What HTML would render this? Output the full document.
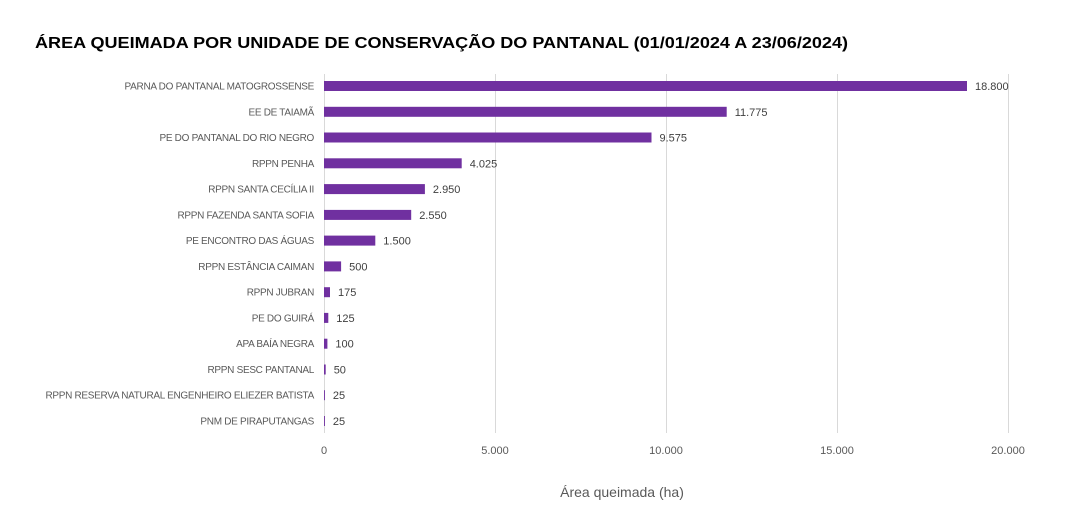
<!DOCTYPE html>
<html><head><meta charset="utf-8"><style>
html,body{margin:0;padding:0;background:#fff;}
svg{display:block;font-family:"Liberation Sans",sans-serif;}
</style></head><body>
<svg width="1080" height="522" viewBox="0 0 1080 522">
<text x="35" y="48" font-size="16" font-weight="bold" fill="#000" textLength="813" lengthAdjust="spacingAndGlyphs">ÁREA QUEIMADA POR UNIDADE DE CONSERVAÇÃO DO PANTANAL (01/01/2024 A 23/06/2024)</text>
<g stroke="#d9d9d9" stroke-width="1">
<line x1="324.5" y1="74" x2="324.5" y2="433"/>
<line x1="495.5" y1="74" x2="495.5" y2="433"/>
<line x1="666.5" y1="74" x2="666.5" y2="433"/>
<line x1="837.5" y1="74" x2="837.5" y2="433"/>
<line x1="1008.5" y1="74" x2="1008.5" y2="433"/>
</g>
<g font-size="11" fill="#595959" text-anchor="middle">
<text x="324" y="454">0</text>
<text x="495" y="454">5.000</text>
<text x="666" y="454">10.000</text>
<text x="837" y="454">15.000</text>
<text x="1008" y="454">20.000</text>
</g>
<text x="622" y="497" font-size="14" fill="#595959" text-anchor="middle">Área queimada (ha)</text>
<g font-size="10" fill="#595959" text-anchor="end" letter-spacing="-0.3">
<text x="314" y="89.5">PARNA DO PANTANAL MATOGROSSENSE</text>
<text x="314" y="115.3">EE DE TAIAMÃ</text>
<text x="314" y="141">PE DO PANTANAL DO RIO NEGRO</text>
<text x="314" y="166.8">RPPN PENHA</text>
<text x="314" y="192.6">RPPN SANTA CECÍLIA II</text>
<text x="314" y="218.4">RPPN FAZENDA SANTA SOFIA</text>
<text x="314" y="244.1">PE ENCONTRO DAS ÁGUAS</text>
<text x="314" y="269.9">RPPN ESTÂNCIA CAIMAN</text>
<text x="314" y="295.7">RPPN JUBRAN</text>
<text x="314" y="321.4">PE DO GUIRÁ</text>
<text x="314" y="347.2">APA BAÍA NEGRA</text>
<text x="314" y="373">RPPN SESC PANTANAL</text>
<text x="314" y="398.7">RPPN RESERVA NATURAL ENGENHEIRO ELIEZER BATISTA</text>
<text x="314" y="424.5">PNM DE PIRAPUTANGAS</text>
</g>
<g fill="#7030a0">
<rect x="324" y="81" width="643" height="10"/>
<rect x="324" y="106.8" width="402.7" height="10"/>
<rect x="324" y="132.5" width="327.5" height="10"/>
<rect x="324" y="158.3" width="137.7" height="10"/>
<rect x="324" y="184.1" width="100.9" height="10"/>
<rect x="324" y="209.9" width="87.2" height="10"/>
<rect x="324" y="235.6" width="51.3" height="10"/>
<rect x="324" y="261.4" width="17.1" height="10"/>
<rect x="324" y="287.2" width="6" height="10"/>
<rect x="324" y="312.9" width="4.3" height="10"/>
<rect x="324" y="338.7" width="3.4" height="10"/>
<rect x="324" y="364.5" width="1.7" height="10"/>
<rect x="324" y="390.2" width="0.9" height="10"/>
<rect x="324" y="416" width="0.9" height="10"/>
</g>
<g font-size="11" fill="#404040">
<text x="975" y="90">18.800</text>
<text x="734.7" y="115.8">11.775</text>
<text x="659.5" y="141.5">9.575</text>
<text x="469.7" y="167.3">4.025</text>
<text x="432.9" y="193.1">2.950</text>
<text x="419.2" y="218.9">2.550</text>
<text x="383.3" y="244.6">1.500</text>
<text x="349.1" y="270.4">500</text>
<text x="338" y="296.2">175</text>
<text x="336.3" y="321.9">125</text>
<text x="335.4" y="347.7">100</text>
<text x="333.7" y="373.5">50</text>
<text x="332.9" y="399.2">25</text>
<text x="332.9" y="425">25</text>
</g>
</svg>
</body></html>
